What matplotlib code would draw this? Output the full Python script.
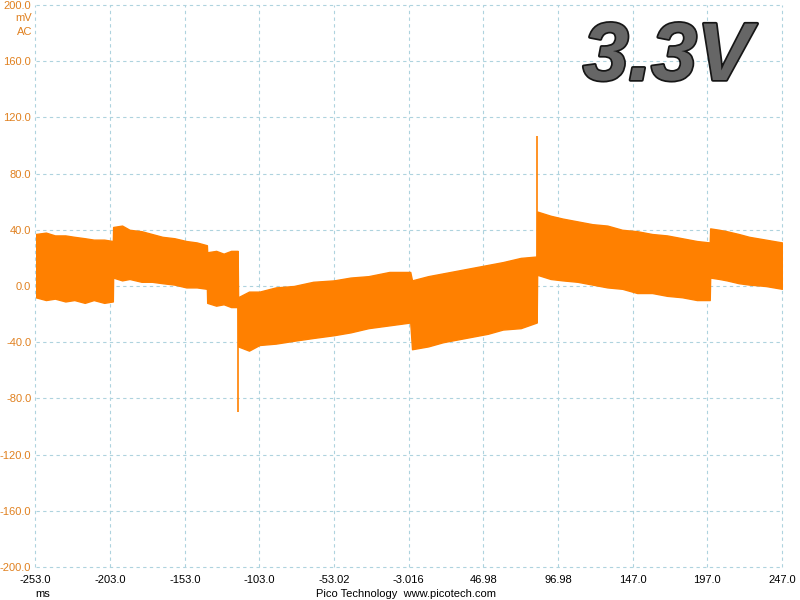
import matplotlib.pyplot as plt
import matplotlib.patheffects as pe

# envelope of the noisy trace (ms, mV)
seg_t = [
    [-253, -246, -240, -233, -227, -220, -214, -207, -201.2],
    [-201.0, -195, -190, -182, -175, -168, -160, -152, -145, -138.2],
    [-138.0, -132, -127, -122, -117.6],
    [-117.3, -110, -103, -92, -80, -67, -53, -42, -30, -16, -2.0],
    [-0.8, 10, 20, 30, 40, 50, 60, 72, 82.7],
    [83.0, 92, 100, 110, 120, 130, 140, 150, 160, 170, 180, 190, 198.6],
    [198.9, 205, 210, 218, 225, 236, 247],
]
seg_hi = [
    [37, 38, 36, 36, 35, 34, 33, 33, 32],
    [42, 43, 40, 39, 37, 35, 34, 32, 31, 29],
    [24, 25, 23, 25, 25],
    [-8, -4, -4, -1, 0, 3, 4, 6, 7, 10, 10],
    [4, 7, 9, 11, 13, 15, 17, 20, 21],
    [53, 50, 48, 46, 44, 43, 40, 39, 37, 36, 34, 32, 31],
    [41, 40, 39, 37, 35, 33, 31],
]
seg_lo = [
    [-8, -10, -9, -11, -10, -12, -10, -12, -11],
    [6, 4, 5, 3, 3, 2, 1, -1, -1, -2],
    [-12, -14, -13, -15, -15],
    [-43, -46, -42, -41, -39, -37, -35, -33, -30, -28, -26],
    [-45, -43, -40, -38, -36, -34, -31, -30, -26],
    [8, 5, 4, 3, 1, -1, -2, -5, -5, -7, -8, -10, -10],
    [6, 5, 4, 2, 1, 0, -2],
]
# single-sample glitches
spike_t = [-117.4, 82.9]
spike_lo = [-90, -26]
spike_hi = [25, 107]

xticks = [-253, -203, -153, -103, -53.02, -3.016, 46.98, 96.98, 147, 197, 247]
xlabels = ['-253.0', '-203.0', '-153.0', '-103.0', '-53.02', '-3.016',
           '46.98', '96.98', '147.0', '197.0', '247.0']
yticks = [200, 160, 120, 80, 40, 0, -40, -80, -120, -160, -200]
ylabels = ['200.0', '160.0', '120.0', '80.0', '40.0', '0.0', '-40.0',
           '-80.0', '-120.0', '-160.0', '-200.0']

orange = '#FF8000'
lab_orange = '#E0801F'
gridc = '#AED3DE'

plt.rcParams['font.family'] = ['Liberation Sans', 'DejaVu Sans']

fig = plt.figure(figsize=(8, 6), dpi=100)
ax = fig.add_axes([35.5 / 800, 1 - 567 / 600, (782 - 35.5) / 800, (567 - 5) / 600])

t_all, hi_all, lo_all = [], [], []
for t, h, l in zip(seg_t, seg_hi, seg_lo):
    t_all += t
    hi_all += h
    lo_all += l
ax.fill_between(t_all, lo_all, hi_all, color=orange, lw=1.0, edgecolor=orange, zorder=3)
ax.vlines(spike_t, spike_lo, spike_hi, color=orange, lw=1.2, zorder=3)

ax.set_xlim(-253, 247)
ax.set_ylim(-200, 200)
ax.set_xticks(xticks)
ax.set_xticklabels(xlabels)
ax.set_yticks(yticks)
ax.set_yticklabels(ylabels)
ax.tick_params(axis='both', length=0, labelsize=8)
ax.tick_params(axis='y', colors=lab_orange, pad=3)
ax.tick_params(axis='x', colors='black', pad=6)
for s in ax.spines.values():
    s.set_visible(False)
ax.grid(True, color=gridc, lw=0.8, ls=(0, (3, 3)))
for gl in ax.get_xgridlines() + ax.get_ygridlines():
    gl.set_clip_on(False)
ax.set_axisbelow(True)

fig.text(32 / 800, 1 - 18 / 600, 'mV', ha='right', va='center', fontsize=8, color=lab_orange)
fig.text(32 / 800, 1 - 32 / 600, 'AC', ha='right', va='center', fontsize=8, color=lab_orange)
fig.text(43 / 800, 1 - 594 / 600, 'ms', ha='center', va='center', fontsize=8)
fig.text(406 / 800, 1 - 594 / 600, 'Pico Technology  www.picotech.com',
         ha='center', va='center', fontsize=8)

fig.text(583 / 800, 1 - 80 / 600, '3.3V', ha='left', va='baseline', fontsize=59,
         fontweight='bold', fontstyle='italic', color='#666666',
         path_effects=[pe.withStroke(linewidth=2.5, foreground='#161616')])

fig.savefig('out.png', dpi=100)
